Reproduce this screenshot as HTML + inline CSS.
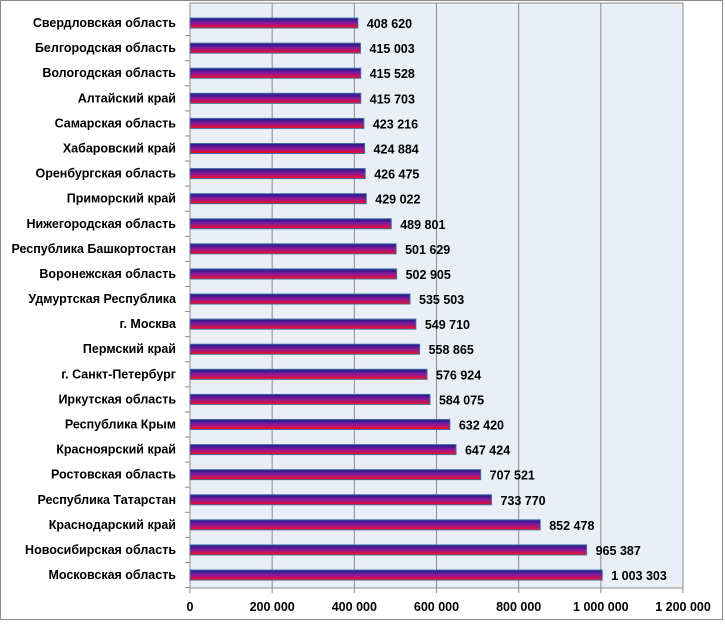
<!DOCTYPE html>
<html><head><meta charset="utf-8"><style>
body{margin:0;background:#fff;}
svg text{font-family:"Liberation Sans",sans-serif;font-weight:bold;font-size:12.5px;fill:#000;}
</style></head><body>
<svg id="chart" width="725" height="621" xmlns="http://www.w3.org/2000/svg">
<defs><linearGradient id="g" x1="0" y1="0" x2="0" y2="1">
<stop offset="0" stop-color="#1a1a8c"/><stop offset="0.5" stop-color="#8a1a9a"/><stop offset="1" stop-color="#ff0a1a"/></linearGradient></defs>
<rect x="0.5" y="0.5" width="722" height="619" fill="#fff" stroke="#8c8c8c"/>
<rect x="190" y="3" width="493" height="585" fill="#e9eef7" stroke="#8c8c8c"/>
<g id="grid"></g><g id="bars"></g><g id="labels"></g>
</svg>
<script>
const categories=["Свердловская область","Белгородская область","Вологодская область","Алтайский край","Самарская область","Хабаровский край","Оренбургская область","Приморский край","Нижегородская область","Республика Башкортостан","Воронежская область","Удмуртская Республика","г. Москва","Пермский край","г. Санкт-Петербург","Иркутская область","Республика Крым","Красноярский край","Ростовская область","Республика Татарстан","Краснодарский край","Новосибирская область","Московская область"];
const values=[408620,415003,415528,415703,423216,424884,426475,429022,489801,501629,502905,535503,549710,558865,576924,584075,632420,647424,707521,733770,852478,965387,1003303];
const ticks=[0,200000,400000,600000,800000,1000000,1200000];
const NS="http://www.w3.org/2000/svg";
const x0=190,xMax=1200000,pw=493,bandTop=10.5,step=25.09;
const xs=v=>x0+v/xMax*pw;
const yc=i=>bandTop+step*i+step/2;
const fmt=v=>String(v).replace(/\B(?=(\d{3})+(?!\d))/g," ");
function mk(t,a,p){const e=document.createElementNS(NS,t);for(const k in a)e.setAttribute(k,a[k]);document.getElementById(p).appendChild(e);return e;}
ticks.forEach((t,i)=>{
 if(t>0){const l=mk("line",{x1:xs(t),x2:xs(t),y1:3,y2:588,stroke:"#8c8c8c"},"grid");
 
 }
 const tk=mk("line",{x1:xs(t),x2:xs(t),y1:588,y2:593,stroke:"#8c8c8c"},"grid");
 
 
 const tx=mk("text",{x:xs(t),y:611,"text-anchor":"middle","font-weight":"normal"},"labels");
 tx.textContent=fmt(t);
 
 
});
mk("line",{x1:190,x2:190,y1:3,y2:588,stroke:"#8c8c8c"},"grid");
categories.forEach((c,i)=>{
 const y=yc(i);
 const tk=mk("line",{x1:185,x2:190,y1:bandTop+step*(i+1),y2:bandTop+step*(i+1),stroke:"#8c8c8c"},"grid");
 
 
 const b=mk("rect",{x:x0,y:y-5,width:xs(values[i])-x0,height:10,fill:"url(#g)",stroke:"#3f6f9f","stroke-width":1},"bars");
 
 
 const cl=mk("text",{x:176,y:y+4,"text-anchor":"end"},"labels");
 cl.textContent=c;
 
 
 const vl=mk("text",{x:xs(values[i])+9,y:y+5,"font-size":"14px"},"labels");
 vl.textContent=fmt(values[i]);
 
 
});
</script>
</body></html>
